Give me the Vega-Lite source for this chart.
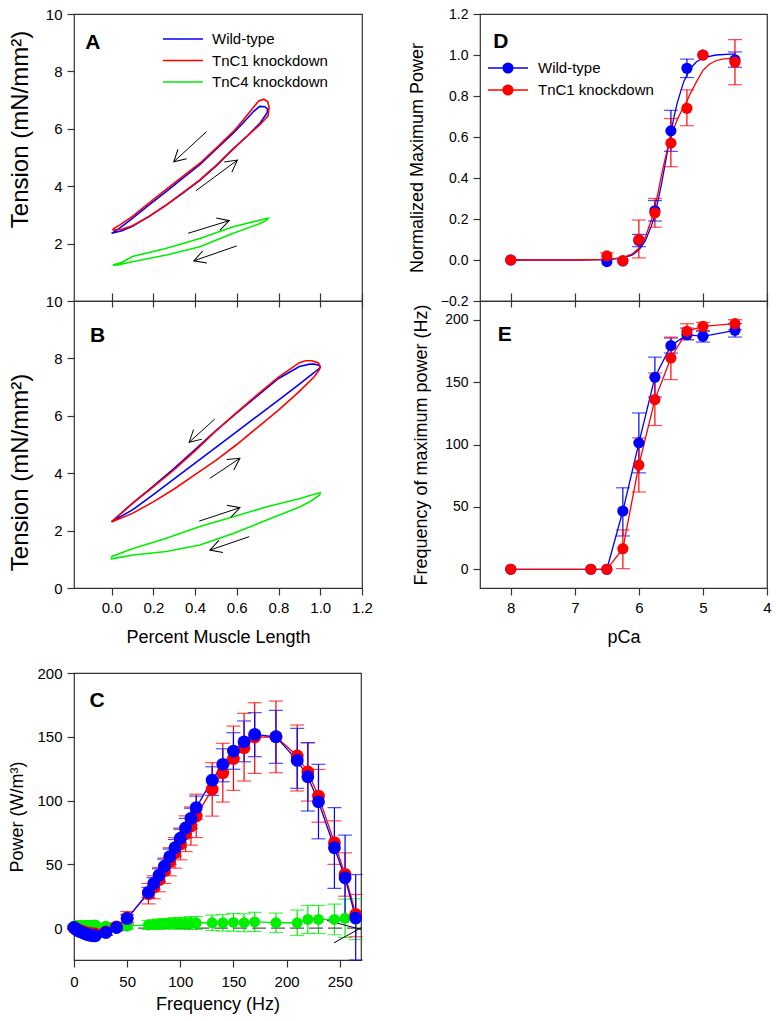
{
  "$schema": "https://vega.github.io/schema/vega-lite/v6.json",
  "background": "white",
  "padding": {"left": 7, "top": 6, "right": 5, "bottom": 5},
  "config": {
    "font": "Liberation Sans",
    "view": {"stroke": "#333333", "strokeWidth": 1.2},
    "axis": {"domain": false, "grid": false, "labelFlush": false, "tickColor": "#333333", "tickSize": 7, "tickWidth": 1.2, "labelColor": "black", "labelFontSize": 15, "labelPadding": 5, "titleColor": "black", "titleFontSize": 18, "titleFontWeight": "normal", "titlePadding": 8},
    "legend": {"labelFontSize": 15, "labelColor": "black"}
  },
  "datasets": {
    "loopsA": [
      {"s": "Wild-type", "i": 0, "x": 0, "y": 2.36}, {"s": "Wild-type", "i": 1, "x": 0.05, "y": 2.45}, {"s": "Wild-type", "i": 2, "x": 0.1, "y": 2.6}, {"s": "Wild-type", "i": 3, "x": 0.18, "y": 2.95}, {"s": "Wild-type", "i": 4, "x": 0.263, "y": 3.35}, {"s": "Wild-type", "i": 5, "x": 0.34, "y": 3.75}, {"s": "Wild-type", "i": 6, "x": 0.423, "y": 4.2}, {"s": "Wild-type", "i": 7, "x": 0.5, "y": 4.7}, {"s": "Wild-type", "i": 8, "x": 0.583, "y": 5.3}, {"s": "Wild-type", "i": 9, "x": 0.65, "y": 5.75}, {"s": "Wild-type", "i": 10, "x": 0.712, "y": 6.2}, {"s": "Wild-type", "i": 11, "x": 0.745, "y": 6.55}, {"s": "Wild-type", "i": 12, "x": 0.748, "y": 6.68}, {"s": "Wild-type", "i": 13, "x": 0.735, "y": 6.77}, {"s": "Wild-type", "i": 14, "x": 0.71, "y": 6.78}, {"s": "Wild-type", "i": 15, "x": 0.68, "y": 6.6}, {"s": "Wild-type", "i": 16, "x": 0.63, "y": 6.2}, {"s": "Wild-type", "i": 17, "x": 0.583, "y": 5.85}, {"s": "Wild-type", "i": 18, "x": 0.5, "y": 5.28}, {"s": "Wild-type", "i": 19, "x": 0.423, "y": 4.75}, {"s": "Wild-type", "i": 20, "x": 0.34, "y": 4.27}, {"s": "Wild-type", "i": 21, "x": 0.263, "y": 3.82}, {"s": "Wild-type", "i": 22, "x": 0.18, "y": 3.35}, {"s": "Wild-type", "i": 23, "x": 0.1, "y": 2.88}, {"s": "Wild-type", "i": 24, "x": 0.04, "y": 2.55}, {"s": "Wild-type", "i": 25, "x": 0.01, "y": 2.4}, {"s": "Wild-type", "i": 26, "x": 0, "y": 2.36},
      {"s": "TnC1 knockdown", "i": 0, "x": 0.005, "y": 2.47}, {"s": "TnC1 knockdown", "i": 1, "x": 0.05, "y": 2.5}, {"s": "TnC1 knockdown", "i": 2, "x": 0.1, "y": 2.62}, {"s": "TnC1 knockdown", "i": 3, "x": 0.18, "y": 2.95}, {"s": "TnC1 knockdown", "i": 4, "x": 0.263, "y": 3.35}, {"s": "TnC1 knockdown", "i": 5, "x": 0.34, "y": 3.77}, {"s": "TnC1 knockdown", "i": 6, "x": 0.423, "y": 4.22}, {"s": "TnC1 knockdown", "i": 7, "x": 0.5, "y": 4.72}, {"s": "TnC1 knockdown", "i": 8, "x": 0.583, "y": 5.3}, {"s": "TnC1 knockdown", "i": 9, "x": 0.65, "y": 5.75}, {"s": "TnC1 knockdown", "i": 10, "x": 0.712, "y": 6.15}, {"s": "TnC1 knockdown", "i": 11, "x": 0.75, "y": 6.45}, {"s": "TnC1 knockdown", "i": 12, "x": 0.755, "y": 6.75}, {"s": "TnC1 knockdown", "i": 13, "x": 0.748, "y": 6.95}, {"s": "TnC1 knockdown", "i": 14, "x": 0.73, "y": 7.03}, {"s": "TnC1 knockdown", "i": 15, "x": 0.705, "y": 6.97}, {"s": "TnC1 knockdown", "i": 16, "x": 0.68, "y": 6.75}, {"s": "TnC1 knockdown", "i": 17, "x": 0.63, "y": 6.3}, {"s": "TnC1 knockdown", "i": 18, "x": 0.583, "y": 5.9}, {"s": "TnC1 knockdown", "i": 19, "x": 0.5, "y": 5.32}, {"s": "TnC1 knockdown", "i": 20, "x": 0.423, "y": 4.8}, {"s": "TnC1 knockdown", "i": 21, "x": 0.34, "y": 4.33}, {"s": "TnC1 knockdown", "i": 22, "x": 0.263, "y": 3.9}, {"s": "TnC1 knockdown", "i": 23, "x": 0.18, "y": 3.42}, {"s": "TnC1 knockdown", "i": 24, "x": 0.1, "y": 2.95}, {"s": "TnC1 knockdown", "i": 25, "x": 0.04, "y": 2.65}, {"s": "TnC1 knockdown", "i": 26, "x": 0.01, "y": 2.52}, {"s": "TnC1 knockdown", "i": 27, "x": 0.005, "y": 2.47},
      {"s": "TnC4 knockdown", "i": 0, "x": 0.006, "y": 1.25}, {"s": "TnC4 knockdown", "i": 1, "x": 0.05, "y": 1.35}, {"s": "TnC4 knockdown", "i": 2, "x": 0.1, "y": 1.55}, {"s": "TnC4 knockdown", "i": 3, "x": 0.263, "y": 1.84}, {"s": "TnC4 knockdown", "i": 4, "x": 0.423, "y": 2.18}, {"s": "TnC4 knockdown", "i": 5, "x": 0.583, "y": 2.59}, {"s": "TnC4 knockdown", "i": 6, "x": 0.712, "y": 2.82}, {"s": "TnC4 knockdown", "i": 7, "x": 0.75, "y": 2.88}, {"s": "TnC4 knockdown", "i": 8, "x": 0.74, "y": 2.8}, {"s": "TnC4 knockdown", "i": 9, "x": 0.712, "y": 2.7}, {"s": "TnC4 knockdown", "i": 10, "x": 0.583, "y": 2.36}, {"s": "TnC4 knockdown", "i": 11, "x": 0.423, "y": 1.89}, {"s": "TnC4 knockdown", "i": 12, "x": 0.263, "y": 1.6}, {"s": "TnC4 knockdown", "i": 13, "x": 0.1, "y": 1.37}, {"s": "TnC4 knockdown", "i": 14, "x": 0.03, "y": 1.26}, {"s": "TnC4 knockdown", "i": 15, "x": 0.006, "y": 1.25}
    ],
    "loopsB": [
      {"s": "Wild-type", "i": 0, "x": 0, "y": 2.31}, {"s": "Wild-type", "i": 1, "x": 0.1, "y": 2.72}, {"s": "Wild-type", "i": 2, "x": 0.2, "y": 3.25}, {"s": "Wild-type", "i": 3, "x": 0.3, "y": 3.8}, {"s": "Wild-type", "i": 4, "x": 0.4, "y": 4.35}, {"s": "Wild-type", "i": 5, "x": 0.5, "y": 4.9}, {"s": "Wild-type", "i": 6, "x": 0.6, "y": 5.45}, {"s": "Wild-type", "i": 7, "x": 0.7, "y": 6.0}, {"s": "Wild-type", "i": 8, "x": 0.8, "y": 6.55}, {"s": "Wild-type", "i": 9, "x": 0.9, "y": 7.1}, {"s": "Wild-type", "i": 10, "x": 0.97, "y": 7.5}, {"s": "Wild-type", "i": 11, "x": 1.0, "y": 7.68}, {"s": "Wild-type", "i": 12, "x": 0.995, "y": 7.76}, {"s": "Wild-type", "i": 13, "x": 0.97, "y": 7.8}, {"s": "Wild-type", "i": 14, "x": 0.95, "y": 7.8}, {"s": "Wild-type", "i": 15, "x": 0.9, "y": 7.72}, {"s": "Wild-type", "i": 16, "x": 0.8, "y": 7.3}, {"s": "Wild-type", "i": 17, "x": 0.7, "y": 6.7}, {"s": "Wild-type", "i": 18, "x": 0.6, "y": 6.1}, {"s": "Wild-type", "i": 19, "x": 0.5, "y": 5.48}, {"s": "Wild-type", "i": 20, "x": 0.4, "y": 4.82}, {"s": "Wild-type", "i": 21, "x": 0.3, "y": 4.17}, {"s": "Wild-type", "i": 22, "x": 0.2, "y": 3.55}, {"s": "Wild-type", "i": 23, "x": 0.1, "y": 2.95}, {"s": "Wild-type", "i": 24, "x": 0.03, "y": 2.5}, {"s": "Wild-type", "i": 25, "x": 0, "y": 2.31},
      {"s": "TnC1 knockdown", "i": 0, "x": 0, "y": 2.3}, {"s": "TnC1 knockdown", "i": 1, "x": 0.1, "y": 2.6}, {"s": "TnC1 knockdown", "i": 2, "x": 0.2, "y": 3.0}, {"s": "TnC1 knockdown", "i": 3, "x": 0.3, "y": 3.45}, {"s": "TnC1 knockdown", "i": 4, "x": 0.4, "y": 3.95}, {"s": "TnC1 knockdown", "i": 5, "x": 0.5, "y": 4.45}, {"s": "TnC1 knockdown", "i": 6, "x": 0.6, "y": 5.0}, {"s": "TnC1 knockdown", "i": 7, "x": 0.7, "y": 5.6}, {"s": "TnC1 knockdown", "i": 8, "x": 0.8, "y": 6.2}, {"s": "TnC1 knockdown", "i": 9, "x": 0.9, "y": 6.85}, {"s": "TnC1 knockdown", "i": 10, "x": 0.97, "y": 7.35}, {"s": "TnC1 knockdown", "i": 11, "x": 0.995, "y": 7.6}, {"s": "TnC1 knockdown", "i": 12, "x": 1.0, "y": 7.72}, {"s": "TnC1 knockdown", "i": 13, "x": 0.99, "y": 7.85}, {"s": "TnC1 knockdown", "i": 14, "x": 0.96, "y": 7.92}, {"s": "TnC1 knockdown", "i": 15, "x": 0.93, "y": 7.92}, {"s": "TnC1 knockdown", "i": 16, "x": 0.9, "y": 7.85}, {"s": "TnC1 knockdown", "i": 17, "x": 0.8, "y": 7.35}, {"s": "TnC1 knockdown", "i": 18, "x": 0.7, "y": 6.75}, {"s": "TnC1 knockdown", "i": 19, "x": 0.6, "y": 6.12}, {"s": "TnC1 knockdown", "i": 20, "x": 0.5, "y": 5.47}, {"s": "TnC1 knockdown", "i": 21, "x": 0.4, "y": 4.78}, {"s": "TnC1 knockdown", "i": 22, "x": 0.3, "y": 4.12}, {"s": "TnC1 knockdown", "i": 23, "x": 0.2, "y": 3.52}, {"s": "TnC1 knockdown", "i": 24, "x": 0.1, "y": 2.95}, {"s": "TnC1 knockdown", "i": 25, "x": 0.03, "y": 2.5}, {"s": "TnC1 knockdown", "i": 26, "x": 0, "y": 2.3},
      {"s": "TnC4 knockdown", "i": 0, "x": 0, "y": 1.1}, {"s": "TnC4 knockdown", "i": 1, "x": 0.103, "y": 1.38}, {"s": "TnC4 knockdown", "i": 2, "x": 0.263, "y": 1.73}, {"s": "TnC4 knockdown", "i": 3, "x": 0.423, "y": 2.14}, {"s": "TnC4 knockdown", "i": 4, "x": 0.583, "y": 2.48}, {"s": "TnC4 knockdown", "i": 5, "x": 0.744, "y": 2.83}, {"s": "TnC4 knockdown", "i": 6, "x": 0.904, "y": 3.12}, {"s": "TnC4 knockdown", "i": 7, "x": 0.97, "y": 3.27}, {"s": "TnC4 knockdown", "i": 8, "x": 1.0, "y": 3.32}, {"s": "TnC4 knockdown", "i": 9, "x": 0.997, "y": 3.24}, {"s": "TnC4 knockdown", "i": 10, "x": 0.96, "y": 3.05}, {"s": "TnC4 knockdown", "i": 11, "x": 0.904, "y": 2.83}, {"s": "TnC4 knockdown", "i": 12, "x": 0.744, "y": 2.37}, {"s": "TnC4 knockdown", "i": 13, "x": 0.583, "y": 1.9}, {"s": "TnC4 knockdown", "i": 14, "x": 0.423, "y": 1.5}, {"s": "TnC4 knockdown", "i": 15, "x": 0.263, "y": 1.27}, {"s": "TnC4 knockdown", "i": 16, "x": 0.103, "y": 1.15}, {"s": "TnC4 knockdown", "i": 17, "x": 0.02, "y": 1.04}, {"s": "TnC4 knockdown", "i": 18, "x": 0, "y": 1.02}, {"s": "TnC4 knockdown", "i": 19, "x": 0, "y": 1.1}
    ],
    "arrowsA": [
      {"x": 0.455, "y": 5.9, "x2": 0.298, "y2": 4.85, "angle": 137.5},
      {"x": 0.404, "y": 3.84, "x2": 0.603, "y2": 4.91, "angle": 323.4},
      {"x": 0.367, "y": 2.36, "x2": 0.564, "y2": 2.8, "angle": 342.9},
      {"x": 0.6, "y": 1.92, "x2": 0.394, "y2": 1.4, "angle": 161}
    ],
    "arrowsB": [
      {"x": 0.495, "y": 5.89, "x2": 0.372, "y2": 5.08, "angle": 137.8},
      {"x": 0.471, "y": 3.82, "x2": 0.615, "y2": 4.52, "angle": 326.3},
      {"x": 0.42, "y": 2.33, "x2": 0.615, "y2": 2.8, "angle": 341.9},
      {"x": 0.66, "y": 1.79, "x2": 0.471, "y2": 1.32, "angle": 161.3}
    ],
    "curvesD": [
      {"s": "Wild-type", "pCa": 8.0, "y": 0}, {"s": "Wild-type", "pCa": 7.0, "y": 0}, {"s": "Wild-type", "pCa": 6.5, "y": 0.002}, {"s": "Wild-type", "pCa": 6.25, "y": 0.009}, {"s": "Wild-type", "pCa": 6.1, "y": 0.025}, {"s": "Wild-type", "pCa": 6.0, "y": 0.049}, {"s": "Wild-type", "pCa": 5.9, "y": 0.093}, {"s": "Wild-type", "pCa": 5.8, "y": 0.17}, {"s": "Wild-type", "pCa": 5.75, "y": 0.225}, {"s": "Wild-type", "pCa": 5.7, "y": 0.291}, {"s": "Wild-type", "pCa": 5.65, "y": 0.367}, {"s": "Wild-type", "pCa": 5.6, "y": 0.451}, {"s": "Wild-type", "pCa": 5.55, "y": 0.537}, {"s": "Wild-type", "pCa": 5.5, "y": 0.622}, {"s": "Wild-type", "pCa": 5.45, "y": 0.699}, {"s": "Wild-type", "pCa": 5.4, "y": 0.768}, {"s": "Wild-type", "pCa": 5.3, "y": 0.87}, {"s": "Wild-type", "pCa": 5.2, "y": 0.933}, {"s": "Wild-type", "pCa": 5.1, "y": 0.967}, {"s": "Wild-type", "pCa": 5.0, "y": 0.986}, {"s": "Wild-type", "pCa": 4.8, "y": 1.0}, {"s": "Wild-type", "pCa": 4.5, "y": 1.005},
      {"s": "TnC1 knockdown", "pCa": 8.0, "y": 0}, {"s": "TnC1 knockdown", "pCa": 7.0, "y": 0}, {"s": "TnC1 knockdown", "pCa": 6.5, "y": 0.003}, {"s": "TnC1 knockdown", "pCa": 6.25, "y": 0.012}, {"s": "TnC1 knockdown", "pCa": 6.1, "y": 0.03}, {"s": "TnC1 knockdown", "pCa": 6.0, "y": 0.058}, {"s": "TnC1 knockdown", "pCa": 5.9, "y": 0.11}, {"s": "TnC1 knockdown", "pCa": 5.8, "y": 0.2}, {"s": "TnC1 knockdown", "pCa": 5.75, "y": 0.26}, {"s": "TnC1 knockdown", "pCa": 5.7, "y": 0.33}, {"s": "TnC1 knockdown", "pCa": 5.65, "y": 0.41}, {"s": "TnC1 knockdown", "pCa": 5.6, "y": 0.48}, {"s": "TnC1 knockdown", "pCa": 5.55, "y": 0.545}, {"s": "TnC1 knockdown", "pCa": 5.5, "y": 0.6}, {"s": "TnC1 knockdown", "pCa": 5.45, "y": 0.645}, {"s": "TnC1 knockdown", "pCa": 5.4, "y": 0.685}, {"s": "TnC1 knockdown", "pCa": 5.3, "y": 0.75}, {"s": "TnC1 knockdown", "pCa": 5.25, "y": 0.775}, {"s": "TnC1 knockdown", "pCa": 5.2, "y": 0.81}, {"s": "TnC1 knockdown", "pCa": 5.1, "y": 0.87}, {"s": "TnC1 knockdown", "pCa": 5.0, "y": 0.925}, {"s": "TnC1 knockdown", "pCa": 4.9, "y": 0.955}, {"s": "TnC1 knockdown", "pCa": 4.8, "y": 0.972}, {"s": "TnC1 knockdown", "pCa": 4.7, "y": 0.98}, {"s": "TnC1 knockdown", "pCa": 4.5, "y": 0.985}
    ],
    "ptsD": [
      {"s": "Wild-type", "pCa": 8.0, "y": 0, "lo": null, "hi": null}, {"s": "Wild-type", "pCa": 6.5, "y": -0.008, "lo": null, "hi": null}, {"s": "Wild-type", "pCa": 6.25, "y": -0.005, "lo": null, "hi": null}, {"s": "Wild-type", "pCa": 6.0, "y": 0.095, "lo": 0.065, "hi": 0.125}, {"s": "Wild-type", "pCa": 5.75, "y": 0.24, "lo": 0.19, "hi": 0.29}, {"s": "Wild-type", "pCa": 5.5, "y": 0.63, "lo": 0.53, "hi": 0.73}, {"s": "Wild-type", "pCa": 5.25, "y": 0.935, "lo": 0.89, "hi": 0.98}, {"s": "Wild-type", "pCa": 5.0, "y": 1.0, "lo": null, "hi": null}, {"s": "Wild-type", "pCa": 4.5, "y": 0.976, "lo": 0.94, "hi": 1.015},
      {"s": "TnC1 knockdown", "pCa": 8.0, "y": 0, "lo": null, "hi": null}, {"s": "TnC1 knockdown", "pCa": 6.5, "y": 0.02, "lo": 0.003, "hi": 0.035}, {"s": "TnC1 knockdown", "pCa": 6.25, "y": -0.003, "lo": null, "hi": null}, {"s": "TnC1 knockdown", "pCa": 6.0, "y": 0.1, "lo": 0.01, "hi": 0.195}, {"s": "TnC1 knockdown", "pCa": 5.75, "y": 0.23, "lo": 0.16, "hi": 0.3}, {"s": "TnC1 knockdown", "pCa": 5.5, "y": 0.57, "lo": 0.455, "hi": 0.69}, {"s": "TnC1 knockdown", "pCa": 5.25, "y": 0.74, "lo": 0.655, "hi": 0.83}, {"s": "TnC1 knockdown", "pCa": 5.0, "y": 1.0, "lo": null, "hi": null}, {"s": "TnC1 knockdown", "pCa": 4.5, "y": 0.965, "lo": 0.855, "hi": 1.075}
    ],
    "ptsE": [
      {"s": "Wild-type", "pCa": 8.0, "y": 0, "lo": null, "hi": null}, {"s": "Wild-type", "pCa": 6.75, "y": 0, "lo": null, "hi": null}, {"s": "Wild-type", "pCa": 6.5, "y": 0, "lo": null, "hi": null}, {"s": "Wild-type", "pCa": 6.25, "y": 46.7, "lo": 26.7, "hi": 65.3}, {"s": "Wild-type", "pCa": 6.0, "y": 101.3, "lo": 77.3, "hi": 125.3}, {"s": "Wild-type", "pCa": 5.75, "y": 153.9, "lo": 138, "hi": 170}, {"s": "Wild-type", "pCa": 5.5, "y": 179.2, "lo": 173.3, "hi": 185.3}, {"s": "Wild-type", "pCa": 5.25, "y": 188, "lo": 184, "hi": 193.3}, {"s": "Wild-type", "pCa": 5.0, "y": 186.7, "lo": 182.1, "hi": 190.7}, {"s": "Wild-type", "pCa": 4.5, "y": 191.5, "lo": 186.1, "hi": 196.9},
      {"s": "TnC1 knockdown", "pCa": 8.0, "y": 0, "lo": null, "hi": null}, {"s": "TnC1 knockdown", "pCa": 6.75, "y": 0, "lo": null, "hi": null}, {"s": "TnC1 knockdown", "pCa": 6.5, "y": 0, "lo": null, "hi": null}, {"s": "TnC1 knockdown", "pCa": 6.25, "y": 16.5, "lo": 0.5, "hi": 31.5}, {"s": "TnC1 knockdown", "pCa": 6.0, "y": 83.5, "lo": 61.9, "hi": 105.3}, {"s": "TnC1 knockdown", "pCa": 5.75, "y": 136, "lo": 115.2, "hi": 157.3}, {"s": "TnC1 knockdown", "pCa": 5.5, "y": 169.3, "lo": 152, "hi": 186.1}, {"s": "TnC1 knockdown", "pCa": 5.25, "y": 190.7, "lo": 184, "hi": 196.8}, {"s": "TnC1 knockdown", "pCa": 5.0, "y": 194.7, "lo": 191.5, "hi": 197.9}, {"s": "TnC1 knockdown", "pCa": 4.5, "y": 196.8, "lo": 192, "hi": 200}
    ],
    "powerC": [
      {"s": "TnC4 knockdown", "f": 0, "p": 1.5, "lo": 0, "hi": 3}, {"s": "TnC4 knockdown", "f": 2, "p": 1.8, "lo": 0.3, "hi": 3.3}, {"s": "TnC4 knockdown", "f": 4, "p": 2, "lo": 0.5, "hi": 3.5}, {"s": "TnC4 knockdown", "f": 6, "p": 1.8, "lo": 0.3, "hi": 3.3}, {"s": "TnC4 knockdown", "f": 8, "p": 2, "lo": 0.5, "hi": 3.5}, {"s": "TnC4 knockdown", "f": 10, "p": 2, "lo": 0.5, "hi": 3.5}, {"s": "TnC4 knockdown", "f": 12, "p": 2.2, "lo": 0.7, "hi": 3.7}, {"s": "TnC4 knockdown", "f": 14, "p": 2, "lo": 0.5, "hi": 3.5}, {"s": "TnC4 knockdown", "f": 16, "p": 2.2, "lo": 0.7, "hi": 3.7}, {"s": "TnC4 knockdown", "f": 18, "p": 2, "lo": 0.5, "hi": 3.5}, {"s": "TnC4 knockdown", "f": 20, "p": 2.5, "lo": 1, "hi": 4}, {"s": "TnC4 knockdown", "f": 30, "p": 1.5, "lo": -0.5, "hi": 3.5}, {"s": "TnC4 knockdown", "f": 40, "p": 1, "lo": -1, "hi": 3}, {"s": "TnC4 knockdown", "f": 50, "p": 1.5, "lo": -1, "hi": 4}, {"s": "TnC4 knockdown", "f": 70, "p": 2.5, "lo": -1, "hi": 6}, {"s": "TnC4 knockdown", "f": 75, "p": 3, "lo": -0.5, "hi": 6.5}, {"s": "TnC4 knockdown", "f": 80, "p": 3, "lo": -1, "hi": 7}, {"s": "TnC4 knockdown", "f": 85, "p": 3.5, "lo": -0.5, "hi": 7.5}, {"s": "TnC4 knockdown", "f": 90, "p": 3.5, "lo": -0.5, "hi": 7.5}, {"s": "TnC4 knockdown", "f": 95, "p": 3.8, "lo": -0.7, "hi": 8.3}, {"s": "TnC4 knockdown", "f": 100, "p": 3.8, "lo": -0.7, "hi": 8.3}, {"s": "TnC4 knockdown", "f": 105, "p": 3.8, "lo": -0.7, "hi": 8.3}, {"s": "TnC4 knockdown", "f": 110, "p": 4, "lo": -1, "hi": 9}, {"s": "TnC4 knockdown", "f": 115, "p": 4, "lo": -1, "hi": 9}, {"s": "TnC4 knockdown", "f": 130, "p": 4.2, "lo": -1.8, "hi": 10.2}, {"s": "TnC4 knockdown", "f": 140, "p": 4.2, "lo": -2.3, "hi": 10.7}, {"s": "TnC4 knockdown", "f": 150, "p": 4.5, "lo": -2.5, "hi": 11.5}, {"s": "TnC4 knockdown", "f": 160, "p": 4.2, "lo": -2.8, "hi": 11.2}, {"s": "TnC4 knockdown", "f": 170, "p": 4.9, "lo": -2.6, "hi": 12.4}, {"s": "TnC4 knockdown", "f": 190, "p": 4.2, "lo": -3.4, "hi": 11.8}, {"s": "TnC4 knockdown", "f": 210, "p": 4.2, "lo": -5.8, "hi": 14.2}, {"s": "TnC4 knockdown", "f": 220, "p": 6.8, "lo": -4.2, "hi": 17.8}, {"s": "TnC4 knockdown", "f": 230, "p": 6.8, "lo": -4.2, "hi": 17.8}, {"s": "TnC4 knockdown", "f": 245, "p": 6.8, "lo": -5.2, "hi": 18.8}, {"s": "TnC4 knockdown", "f": 255, "p": 7.7, "lo": -7.3, "hi": 22.7}, {"s": "TnC4 knockdown", "f": 265, "p": 7, "lo": -9, "hi": 23},
      {"s": "TnC1 knockdown", "f": 0, "p": 0.3, "lo": -0.7, "hi": 1.3}, {"s": "TnC1 knockdown", "f": 2, "p": -0.5, "lo": -1.5, "hi": 0.5}, {"s": "TnC1 knockdown", "f": 4, "p": -1.3, "lo": -2.5, "hi": -0.1}, {"s": "TnC1 knockdown", "f": 6, "p": -2, "lo": -3.3, "hi": -0.7}, {"s": "TnC1 knockdown", "f": 8, "p": -2.6, "lo": -4, "hi": -1.2}, {"s": "TnC1 knockdown", "f": 10, "p": -3.2, "lo": -4.7, "hi": -1.7}, {"s": "TnC1 knockdown", "f": 12, "p": -3.7, "lo": -5.3, "hi": -2.1}, {"s": "TnC1 knockdown", "f": 14, "p": -4, "lo": -5.7, "hi": -2.3}, {"s": "TnC1 knockdown", "f": 16, "p": -4.3, "lo": -6, "hi": -2.6}, {"s": "TnC1 knockdown", "f": 18, "p": -4.5, "lo": -6.3, "hi": -2.7}, {"s": "TnC1 knockdown", "f": 20, "p": -4.5, "lo": -6.5, "hi": -2.5}, {"s": "TnC1 knockdown", "f": 30, "p": -3, "lo": -5.5, "hi": -0.5}, {"s": "TnC1 knockdown", "f": 40, "p": 1, "lo": -2, "hi": 4}, {"s": "TnC1 knockdown", "f": 50, "p": 8, "lo": 3, "hi": 13}, {"s": "TnC1 knockdown", "f": 70, "p": 27, "lo": 19, "hi": 35}, {"s": "TnC1 knockdown", "f": 75, "p": 32, "lo": 23, "hi": 41}, {"s": "TnC1 knockdown", "f": 80, "p": 38, "lo": 28.5, "hi": 47.5}, {"s": "TnC1 knockdown", "f": 85, "p": 45, "lo": 35, "hi": 55}, {"s": "TnC1 knockdown", "f": 90, "p": 52, "lo": 41, "hi": 63}, {"s": "TnC1 knockdown", "f": 95, "p": 59, "lo": 47, "hi": 71}, {"s": "TnC1 knockdown", "f": 100, "p": 66, "lo": 53.5, "hi": 78.5}, {"s": "TnC1 knockdown", "f": 105, "p": 74, "lo": 60, "hi": 88}, {"s": "TnC1 knockdown", "f": 110, "p": 80, "lo": 65, "hi": 95}, {"s": "TnC1 knockdown", "f": 115, "p": 88, "lo": 71, "hi": 105}, {"s": "TnC1 knockdown", "f": 130, "p": 108.8, "lo": 87.8, "hi": 129.7}, {"s": "TnC1 knockdown", "f": 140, "p": 121.8, "lo": 98.8, "hi": 144.9}, {"s": "TnC1 knockdown", "f": 150, "p": 133, "lo": 108, "hi": 158.4}, {"s": "TnC1 knockdown", "f": 160, "p": 141.4, "lo": 115.3, "hi": 168.4}, {"s": "TnC1 knockdown", "f": 170, "p": 149.8, "lo": 121.3, "hi": 176.7}, {"s": "TnC1 knockdown", "f": 190, "p": 150, "lo": 121.8, "hi": 178}, {"s": "TnC1 knockdown", "f": 210, "p": 134.9, "lo": 107.5, "hi": 159.2}, {"s": "TnC1 knockdown", "f": 220, "p": 122.4, "lo": 99.6, "hi": 145.4}, {"s": "TnC1 knockdown", "f": 230, "p": 103.5, "lo": 83, "hi": 124.4}, {"s": "TnC1 knockdown", "f": 245, "p": 66.9, "lo": 50, "hi": 84}, {"s": "TnC1 knockdown", "f": 255, "p": 42.1, "lo": 25, "hi": 59}, {"s": "TnC1 knockdown", "f": 265, "p": 10.7, "lo": -6.8, "hi": 26.4},
      {"s": "Wild-type", "f": 0, "p": 0.5, "lo": -0.5, "hi": 1.5}, {"s": "Wild-type", "f": 2, "p": -1, "lo": -2, "hi": 0}, {"s": "Wild-type", "f": 4, "p": -2, "lo": -3, "hi": -1}, {"s": "Wild-type", "f": 6, "p": -2.8, "lo": -4, "hi": -1.6}, {"s": "Wild-type", "f": 8, "p": -3.5, "lo": -4.7, "hi": -2.3}, {"s": "Wild-type", "f": 10, "p": -4.2, "lo": -5.5, "hi": -2.9}, {"s": "Wild-type", "f": 12, "p": -4.8, "lo": -6.2, "hi": -3.4}, {"s": "Wild-type", "f": 14, "p": -5.3, "lo": -6.8, "hi": -3.8}, {"s": "Wild-type", "f": 16, "p": -5.7, "lo": -7.2, "hi": -4.2}, {"s": "Wild-type", "f": 18, "p": -6, "lo": -7.5, "hi": -4.5}, {"s": "Wild-type", "f": 20, "p": -6, "lo": -7.6, "hi": -4.4}, {"s": "Wild-type", "f": 30, "p": -3.5, "lo": -5.5, "hi": -1.5}, {"s": "Wild-type", "f": 40, "p": 0.5, "lo": -2, "hi": 3}, {"s": "Wild-type", "f": 50, "p": 7.5, "lo": 4.5, "hi": 10.5}, {"s": "Wild-type", "f": 70, "p": 28, "lo": 24, "hi": 32}, {"s": "Wild-type", "f": 75, "p": 35, "lo": 30.5, "hi": 39.5}, {"s": "Wild-type", "f": 80, "p": 41.5, "lo": 36.5, "hi": 46.5}, {"s": "Wild-type", "f": 85, "p": 48.5, "lo": 43, "hi": 54}, {"s": "Wild-type", "f": 90, "p": 56, "lo": 50, "hi": 62}, {"s": "Wild-type", "f": 95, "p": 63, "lo": 56.5, "hi": 69.5}, {"s": "Wild-type", "f": 100, "p": 70.5, "lo": 63.5, "hi": 77.5}, {"s": "Wild-type", "f": 105, "p": 78.5, "lo": 71, "hi": 86}, {"s": "Wild-type", "f": 110, "p": 86, "lo": 78, "hi": 94}, {"s": "Wild-type", "f": 115, "p": 94.5, "lo": 85.5, "hi": 103.5}, {"s": "Wild-type", "f": 130, "p": 116, "lo": 104, "hi": 126.5}, {"s": "Wild-type", "f": 140, "p": 128.4, "lo": 114.7, "hi": 140.6}, {"s": "Wild-type", "f": 150, "p": 138.8, "lo": 124.5, "hi": 153.2}, {"s": "Wild-type", "f": 160, "p": 146, "lo": 130.4, "hi": 162.4}, {"s": "Wild-type", "f": 170, "p": 151.9, "lo": 134.4, "hi": 168.9}, {"s": "Wild-type", "f": 190, "p": 150, "lo": 129.2, "hi": 170.7}, {"s": "Wild-type", "f": 210, "p": 131.5, "lo": 109.6, "hi": 156.6}, {"s": "Wild-type", "f": 220, "p": 118.7, "lo": 91.8, "hi": 145.3}, {"s": "Wild-type", "f": 230, "p": 99, "lo": 70, "hi": 128.4}, {"s": "Wild-type", "f": 245, "p": 63, "lo": 31.1, "hi": 94.4}, {"s": "Wild-type", "f": 255, "p": 39.5, "lo": 6, "hi": 72.9}, {"s": "Wild-type", "f": 265, "p": 8, "lo": -35, "hi": 42}
    ],
    "blackC": [
      {"k": "a", "f": 238, "p": 6}, {"k": "a", "f": 270, "p": -1},
      {"k": "b", "f": 244.6, "p": -11.5}, {"k": "b", "f": 270, "p": 0.2}
    ]
  },
  "vconcat": [
    {
      "hconcat": [
        {
          "vconcat": [
            {
              "width": 288, "height": 287,
              "layer": [
                {
                  "data": {"name": "loopsA"},
                  "mark": {"type": "line", "strokeWidth": 1.6},
                  "encoding": {
                    "x": {"field": "x", "type": "quantitative", "scale": {"domain": [-0.18, 1.2], "nice": false, "zero": false}, "axis": {"values": [0, 0.2, 0.4, 0.6, 0.8, 1, 1.2], "labels": false, "title": null, "offset": -8, "tickSize": 14}},
                    "y": {"field": "y", "type": "quantitative", "scale": {"domain": [0, 10], "nice": false, "zero": false}, "axis": {"values": [2, 4, 6, 8, 10], "title": "Tension (mN/mm²)", "titleFontSize": 24, "titlePadding": 13, "titleY": 115}},
                    "color": {"field": "s", "type": "nominal", "scale": {"domain": ["Wild-type", "TnC1 knockdown", "TnC4 knockdown"], "range": ["#0000ff", "#ff0000", "#00ee00"]}, "legend": {"orient": "none", "legendX": 88, "legendY": 17, "title": null, "symbolType": "stroke", "symbolSize": 1600, "symbolStrokeWidth": 1.6, "clipHeight": 16, "rowPadding": 5.5, "labelFontSize": 15, "labelOffset": 8, "padding": 0}},
                    "order": {"field": "i", "type": "quantitative"}
                  }
                },
                {
                  "data": {"name": "arrowsA"},
                  "mark": {"type": "rule", "color": "black", "strokeWidth": 1},
                  "encoding": {
                    "x": {"field": "x", "type": "quantitative", "scale": {"domain": [-0.18, 1.2], "nice": false, "zero": false}},
                    "y": {"field": "y", "type": "quantitative", "scale": {"domain": [0, 10], "nice": false, "zero": false}},
                    "x2": {"field": "x2"}, "y2": {"field": "y2"}
                  }
                },
                {
                  "data": {"name": "arrowsA"},
                  "mark": {"type": "point", "shape": "M-1,-0.55L0,0L-1,0.55", "filled": false, "color": "black", "strokeWidth": 1, "size": 540, "opacity": 1},
                  "encoding": {
                    "x": {"field": "x2", "type": "quantitative", "scale": {"domain": [-0.18, 1.2], "nice": false, "zero": false}},
                    "y": {"field": "y2", "type": "quantitative", "scale": {"domain": [0, 10], "nice": false, "zero": false}},
                    "angle": {"field": "angle", "type": "quantitative", "scale": null}
                  }
                },
                {
                  "data": {"values": [{"label": "A"}]},
                  "mark": {"type": "text", "fontSize": 21, "fontWeight": "bold", "color": "black"},
                  "encoding": {
                    "x": {"datum": -0.09, "type": "quantitative", "scale": {"domain": [-0.18, 1.2], "nice": false, "zero": false}},
                    "y": {"datum": 9.0, "type": "quantitative", "scale": {"domain": [0, 10], "nice": false, "zero": false}},
                    "text": {"field": "label"}
                  }
                }
              ]
            },
            {
              "width": 288, "height": 287,
              "layer": [
                {
                  "data": {"name": "loopsB"},
                  "mark": {"type": "line", "strokeWidth": 1.6},
                  "encoding": {
                    "x": {"field": "x", "type": "quantitative", "scale": {"domain": [-0.18, 1.2], "nice": false, "zero": false}, "axis": {"values": [0, 0.2, 0.4, 0.6, 0.8, 1, 1.2], "format": ".1f", "title": "Percent Muscle Length", "titlePadding": 13}},
                    "y": {"field": "y", "type": "quantitative", "scale": {"domain": [0, 10], "nice": false, "zero": false}, "axis": {"values": [0, 2, 4, 6, 8, 10], "title": "Tension (mN/mm²)", "titleFontSize": 24, "titlePadding": 13, "titleY": 171}},
                    "color": {"field": "s", "type": "nominal", "scale": {"domain": ["Wild-type", "TnC1 knockdown", "TnC4 knockdown"], "range": ["#0000ff", "#ff0000", "#00ee00"]}, "legend": null},
                    "order": {"field": "i", "type": "quantitative"}
                  }
                },
                {
                  "data": {"name": "arrowsB"},
                  "mark": {"type": "rule", "color": "black", "strokeWidth": 1},
                  "encoding": {
                    "x": {"field": "x", "type": "quantitative", "scale": {"domain": [-0.18, 1.2], "nice": false, "zero": false}},
                    "y": {"field": "y", "type": "quantitative", "scale": {"domain": [0, 10], "nice": false, "zero": false}},
                    "x2": {"field": "x2"}, "y2": {"field": "y2"}
                  }
                },
                {
                  "data": {"name": "arrowsB"},
                  "mark": {"type": "point", "shape": "M-1,-0.55L0,0L-1,0.55", "filled": false, "color": "black", "strokeWidth": 1, "size": 540, "opacity": 1},
                  "encoding": {
                    "x": {"field": "x2", "type": "quantitative", "scale": {"domain": [-0.18, 1.2], "nice": false, "zero": false}},
                    "y": {"field": "y2", "type": "quantitative", "scale": {"domain": [0, 10], "nice": false, "zero": false}},
                    "angle": {"field": "angle", "type": "quantitative", "scale": null}
                  }
                },
                {
                  "data": {"values": [{"label": "B"}]},
                  "mark": {"type": "text", "fontSize": 21, "fontWeight": "bold", "color": "black"},
                  "encoding": {
                    "x": {"datum": -0.067, "type": "quantitative", "scale": {"domain": [-0.18, 1.2], "nice": false, "zero": false}},
                    "y": {"datum": 8.78, "type": "quantitative", "scale": {"domain": [0, 10], "nice": false, "zero": false}},
                    "text": {"field": "label"}
                  }
                }
              ]
            }
          ],
          "spacing": 0,
          "bounds": "flush",
          "resolve": {"scale": {"color": "independent"}, "legend": {"color": "independent"}}
        },
        {
          "vconcat": [
            {
              "width": 287, "height": 287,
              "resolve": {"legend": {"color": "independent"}},
              "layer": [
                {
                  "data": {"name": "curvesD"},
                  "mark": {"type": "line", "strokeWidth": 1.3},
                  "encoding": {
                    "x": {"field": "pCa", "type": "quantitative", "scale": {"domain": [4, 8.48], "reverse": true, "nice": false, "zero": false}, "axis": {"values": [4, 5, 6, 7, 8], "labels": false, "title": null, "offset": -8, "tickSize": 14}},
                    "y": {"field": "y", "type": "quantitative", "scale": {"domain": [-0.2, 1.2], "nice": false, "zero": false}, "axis": {"values": [-0.2, 0, 0.2, 0.4, 0.6, 0.8, 1, 1.2], "format": ".1f", "title": "Normalized Maximum Power", "labelFontSize": 14, "titlePadding": 14}},
                    "color": {"field": "s", "type": "nominal", "scale": {"domain": ["Wild-type", "TnC1 knockdown"], "range": ["#0000ff", "#ff0000"]}, "legend": {"orient": "none", "legendX": 7, "legendY": 46, "title": null, "symbolType": "stroke", "symbolSize": 1600, "symbolStrokeWidth": 1.5, "clipHeight": 16, "rowPadding": 6, "labelFontSize": 15, "labelOffset": 9, "padding": 0}}
                  }
                },
                {
                  "data": {"name": "ptsD"},
                  "transform": [{"filter": "isValid(datum.lo)"}],
                  "mark": {"type": "errorbar", "ticks": true, "size": 14, "thickness": 1.2},
                  "encoding": {
                    "x": {"field": "pCa", "type": "quantitative", "scale": {"domain": [4, 8.48], "reverse": true, "nice": false, "zero": false}},
                    "y": {"field": "lo", "type": "quantitative", "scale": {"domain": [-0.2, 1.2], "nice": false, "zero": false}, "axis": {"title": "Normalized Maximum Power"}},
                    "y2": {"field": "hi"},
                    "color": {"field": "s", "type": "nominal", "scale": {"domain": ["Wild-type", "TnC1 knockdown"], "range": ["#0000ff", "#ff0000"]}, "legend": null}
                  }
                },
                {
                  "data": {"name": "ptsD"},
                  "mark": {"type": "point", "filled": true, "size": 125, "opacity": 1},
                  "encoding": {
                    "x": {"field": "pCa", "type": "quantitative", "scale": {"domain": [4, 8.48], "reverse": true, "nice": false, "zero": false}},
                    "y": {"field": "y", "type": "quantitative", "scale": {"domain": [-0.2, 1.2], "nice": false, "zero": false}},
                    "color": {"field": "s", "type": "nominal", "scale": {"domain": ["Wild-type", "TnC1 knockdown"], "range": ["#0000ff", "#ff0000"]}, "legend": {"orient": "none", "legendX": 20.5, "legendY": 46, "title": null, "symbolType": "circle", "symbolSize": 125, "clipHeight": 16, "rowPadding": 6, "labelFontSize": 15, "labelExpr": "''", "padding": 0}}
                  }
                },
                {
                  "data": {"values": [{"label": "D"}]},
                  "mark": {"type": "text", "fontSize": 21, "fontWeight": "bold", "color": "black"},
                  "encoding": {
                    "x": {"datum": 8.156, "type": "quantitative", "scale": {"domain": [4, 8.48], "reverse": true, "nice": false, "zero": false}},
                    "y": {"datum": 1.063, "type": "quantitative", "scale": {"domain": [-0.2, 1.2], "nice": false, "zero": false}},
                    "text": {"field": "label"}
                  }
                }
              ]
            },
            {
              "width": 287, "height": 287,
              "layer": [
                {
                  "data": {"name": "ptsE"},
                  "transform": [{"filter": "isValid(datum.lo)"}],
                  "mark": {"type": "errorbar", "ticks": true, "size": 14, "thickness": 1.2},
                  "encoding": {
                    "x": {"field": "pCa", "type": "quantitative", "scale": {"domain": [4, 8.48], "reverse": true, "nice": false, "zero": false}, "axis": {"values": [4, 5, 6, 7, 8], "format": "d", "title": "pCa", "titlePadding": 13}},
                    "y": {"field": "lo", "type": "quantitative", "scale": {"domain": [-15, 215], "nice": false, "zero": false}, "axis": {"values": [0, 50, 100, 150, 200], "title": "Frequency of maximum power (Hz)", "labelFontSize": 14, "titlePadding": 14}},
                    "y2": {"field": "hi"},
                    "color": {"field": "s", "type": "nominal", "scale": {"domain": ["Wild-type", "TnC1 knockdown"], "range": ["#0000ff", "#ff0000"]}, "legend": null}
                  }
                },
                {
                  "data": {"name": "ptsE"},
                  "mark": {"type": "line", "strokeWidth": 1.3},
                  "encoding": {
                    "x": {"field": "pCa", "type": "quantitative", "scale": {"domain": [4, 8.48], "reverse": true, "nice": false, "zero": false}},
                    "y": {"field": "y", "type": "quantitative", "scale": {"domain": [-15, 215], "nice": false, "zero": false}},
                    "color": {"field": "s", "type": "nominal", "scale": {"domain": ["Wild-type", "TnC1 knockdown"], "range": ["#0000ff", "#ff0000"]}, "legend": null}
                  }
                },
                {
                  "data": {"name": "ptsE"},
                  "mark": {"type": "point", "filled": true, "size": 125, "opacity": 1},
                  "encoding": {
                    "x": {"field": "pCa", "type": "quantitative", "scale": {"domain": [4, 8.48], "reverse": true, "nice": false, "zero": false}},
                    "y": {"field": "y", "type": "quantitative", "scale": {"domain": [-15, 215], "nice": false, "zero": false}},
                    "color": {"field": "s", "type": "nominal", "scale": {"domain": ["Wild-type", "TnC1 knockdown"], "range": ["#0000ff", "#ff0000"]}, "legend": null}
                  }
                },
                {
                  "data": {"values": [{"label": "E"}]},
                  "mark": {"type": "text", "fontSize": 21, "fontWeight": "bold", "color": "black"},
                  "encoding": {
                    "x": {"datum": 8.094, "type": "quantitative", "scale": {"domain": [4, 8.48], "reverse": true, "nice": false, "zero": false}},
                    "y": {"datum": 188, "type": "quantitative", "scale": {"domain": [-15, 215], "nice": false, "zero": false}},
                    "text": {"field": "label"}
                  }
                }
              ]
            }
          ],
          "spacing": 0,
          "bounds": "flush",
          "resolve": {"scale": {"color": "independent"}, "legend": {"color": "independent"}}
        }
      ],
      "spacing": 33,
      "resolve": {"scale": {"color": "independent"}, "legend": {"color": "independent"}}
    },
    {
      "width": 287, "height": 287,
      "layer": [
        {
          "data": {"name": "powerC"},
          "mark": {"type": "errorbar", "ticks": true, "size": 14, "thickness": 1.2},
          "encoding": {
            "x": {"field": "f", "type": "quantitative", "scale": {"domain": [0, 270], "nice": false, "zero": false}, "axis": {"values": [0, 50, 100, 150, 200, 250], "title": "Frequency (Hz)", "labelPadding": 7, "titlePadding": 6}},
            "y": {"field": "lo", "type": "quantitative", "scale": {"domain": [-25, 200], "nice": false, "zero": false, "clamp": true}, "axis": {"values": [0, 50, 100, 150, 200], "title": "Power (W/m³)", "titlePadding": 10}},
            "y2": {"field": "hi"},
            "color": {"field": "s", "type": "nominal", "scale": {"domain": ["Wild-type", "TnC1 knockdown", "TnC4 knockdown"], "range": ["#0000ff", "#ff0000", "#00ee00"]}, "legend": null}
          }
        },
        {
          "data": {"values": [{"zero": 0}]},
          "mark": {"type": "rule", "color": "#555555", "strokeWidth": 1.2, "strokeDash": [14, 5]},
          "encoding": {
            "y": {"field": "zero", "type": "quantitative", "scale": {"domain": [-25, 200], "nice": false, "zero": false, "clamp": true}}
          }
        },
        {
          "data": {"name": "blackC"},
          "mark": {"type": "line", "color": "black", "strokeWidth": 1},
          "encoding": {
            "x": {"field": "f", "type": "quantitative", "scale": {"domain": [0, 270], "nice": false, "zero": false}},
            "y": {"field": "p", "type": "quantitative", "scale": {"domain": [-25, 200], "nice": false, "zero": false, "clamp": true}},
            "detail": {"field": "k", "type": "nominal"}
          }
        },
        {
          "data": {"name": "powerC"},
          "mark": {"type": "line", "strokeWidth": 1.3},
          "encoding": {
            "x": {"field": "f", "type": "quantitative", "scale": {"domain": [0, 270], "nice": false, "zero": false}},
            "y": {"field": "p", "type": "quantitative", "scale": {"domain": [-25, 200], "nice": false, "zero": false, "clamp": true}},
            "color": {"field": "s", "type": "nominal", "scale": {"domain": ["Wild-type", "TnC1 knockdown", "TnC4 knockdown"], "range": ["#0000ff", "#ff0000", "#00ee00"]}, "legend": null}
          }
        },
        {
          "data": {"name": "powerC"},
          "transform": [{"filter": "datum.s === 'TnC4 knockdown'"}],
          "mark": {"type": "point", "filled": true, "size": 120, "opacity": 1},
          "encoding": {
            "x": {"field": "f", "type": "quantitative", "scale": {"domain": [0, 270], "nice": false, "zero": false}},
            "y": {"field": "p", "type": "quantitative", "scale": {"domain": [-25, 200], "nice": false, "zero": false, "clamp": true}},
            "color": {"field": "s", "type": "nominal", "scale": {"domain": ["Wild-type", "TnC1 knockdown", "TnC4 knockdown"], "range": ["#0000ff", "#ff0000", "#00ee00"]}, "legend": null}
          }
        },
        {
          "data": {"name": "powerC"},
          "transform": [{"filter": "datum.s !== 'TnC4 knockdown'"}],
          "mark": {"type": "point", "filled": true, "size": 165, "opacity": 1},
          "encoding": {
            "x": {"field": "f", "type": "quantitative", "scale": {"domain": [0, 270], "nice": false, "zero": false}},
            "y": {"field": "p", "type": "quantitative", "scale": {"domain": [-25, 200], "nice": false, "zero": false, "clamp": true}},
            "color": {"field": "s", "type": "nominal", "scale": {"domain": ["Wild-type", "TnC1 knockdown", "TnC4 knockdown"], "range": ["#0000ff", "#ff0000", "#00ee00"]}, "legend": null}
          }
        },
        {
          "data": {"values": [{"label": "C"}]},
          "mark": {"type": "text", "fontSize": 21, "fontWeight": "bold", "color": "black"},
          "encoding": {
            "x": {"datum": 21.6, "type": "quantitative", "scale": {"domain": [0, 270], "nice": false, "zero": false}},
            "y": {"datum": 178, "type": "quantitative", "scale": {"domain": [-25, 200], "nice": false, "zero": false, "clamp": true}},
            "text": {"field": "label"}
          }
        }
      ]
    }
  ],
  "spacing": 18,
  "resolve": {"scale": {"color": "independent"}, "legend": {"color": "independent"}}
}
